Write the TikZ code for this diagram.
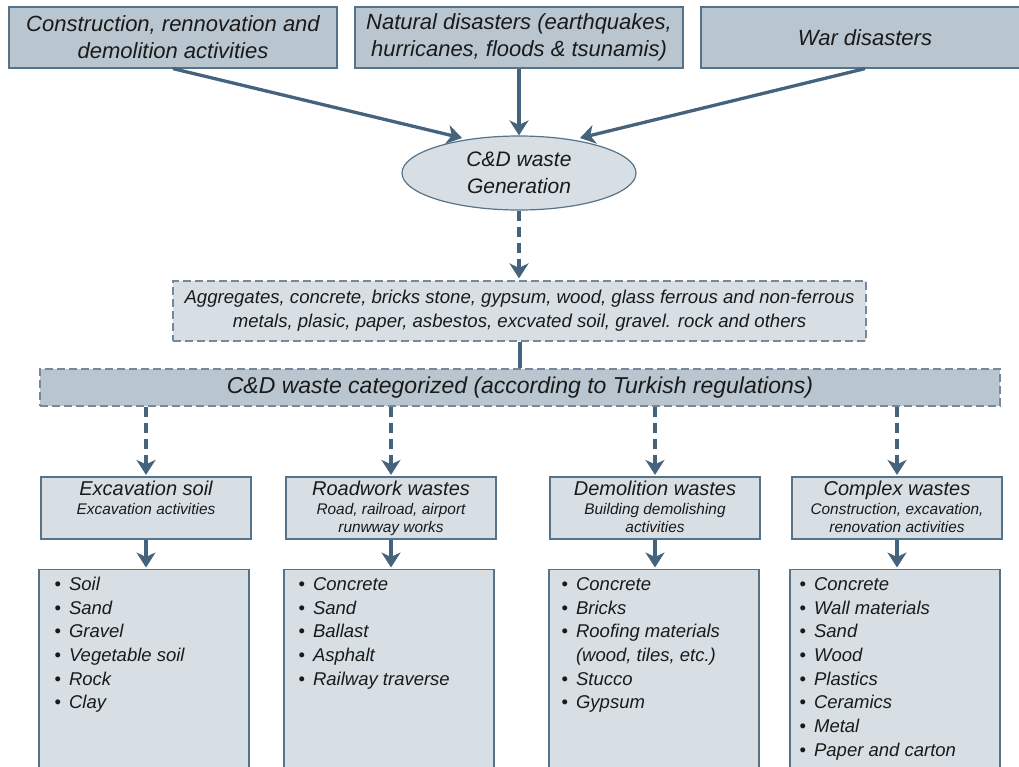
\documentclass[tikz,border=0pt]{standalone}
\usepackage{fontspec}
\setmainfont{Liberation Sans}
\usetikzlibrary{arrows.meta,shapes.geometric}
\definecolor{darkfill}{HTML}{B9C6CF}
\definecolor{lightfill}{HTML}{D7DFE4}
\definecolor{boxline}{HTML}{55738A}
\definecolor{arrowcol}{HTML}{45637C}
\definecolor{dashline}{HTML}{77889A}
\definecolor{txt}{HTML}{1A1A1A}
\newcommand{\bul}{{\upshape\textbullet}}
\begin{document}
\begin{tikzpicture}[x=1pt,y=-1pt,
  every node/.style={text=txt},
  topbox/.style={draw=boxline, line width=1.2pt, fill=darkfill, minimum width=328pt, minimum height=61pt, inner sep=0pt, align=center, font=\itshape\fontsize{22}{27}\selectfont},
  genell/.style={ellipse, draw=boxline, line width=1.2pt, fill=lightfill, minimum width=234pt, minimum height=74pt, inner sep=0pt, align=center, font=\itshape\fontsize{21}{27}\selectfont},
  aggbox/.style={draw=dashline, line width=1.2pt, dash pattern=on 8pt off 4pt, fill=lightfill, minimum width=693pt, minimum height=60pt, inner sep=0pt, align=center, font=\itshape\fontsize{18.6}{24}\selectfont},
  barbox/.style={draw=dashline, line width=1.2pt, dash pattern=on 8pt off 4pt, fill=darkfill, minimum width=960pt, minimum height=37pt, inner sep=0pt, align=center, font=\itshape\fontsize{23}{24}\selectfont},
  catbox/.style={draw=boxline, line width=1.2pt, fill=lightfill, minimum width=210pt, minimum height=62pt, inner sep=0pt, font=\itshape\fontsize{15.4}{18.5}\selectfont},
  listbox/.style={draw=boxline, line width=1.2pt, fill=lightfill, minimum width=210pt, minimum height=230pt, inner sep=0pt, anchor=north},
  listtext/.style={anchor=north west, inner sep=0pt, font=\itshape\fontsize{18.5}{23.7}\selectfont},
  arr/.style={draw=arrowcol, line width=3.3pt, -{Stealth[length=15pt, width=19pt, inset=4.5pt]}},
  darr/.style={arr, dash pattern=on 10pt off 6pt},
  link/.style={draw=arrowcol, line width=4pt}
]
\useasboundingbox (0,0) rectangle (1019,766);
\clip (0,0) rectangle (1019,766);

% top sources
\node[topbox] (b1) at (173,37.5) {Construction, rennovation and\\demolition activities};
\node[topbox] (b2) at (519,37.5) {Natural disasters (earthquakes,\\hurricanes, floods \& tsunamis)};
\node[topbox] (b3) at (865,37.5) {War disasters};

% generation
\node[genell] (ell) at (519,173) {C\&D waste\\Generation};
\coordinate (t1) at (462,138);
\coordinate (t3) at (580,138);
\draw[arr] (b1.south) -- (t1);
\draw[arr] (b2.south) -- (ell.north);
\draw[arr] (b3.south) -- (t3);

% aggregates
\node[aggbox] (agg) at (519.5,311) {Aggregates, concrete, bricks stone, gypsum, wood, glass ferrous and non-ferrous\\metals, plasic, paper, asbestos, excvated soil, gravel. rock and others};
\draw[darr, shorten >=2pt] (ell.south) -- (ell.south |- agg.north);

% categorized bar
\node[barbox] (bar) at (520,387.5) {C\&D waste categorized (according to Turkish regulations)};
\draw[link] (agg.south) -- (agg.south |- bar.north);

% categories
\node[catbox] (c1) at (146,508) {\parbox[t][54pt][t]{206pt}{\centering{\fontsize{20}{19}\selectfont Excavation soil}\\Excavation activities}};
\node[catbox] (c2) at (391,508) {\parbox[t][54pt][t]{206pt}{\centering{\fontsize{20}{19}\selectfont Roadwork wastes}\\Road, railroad, airport\\runwway works}};
\node[catbox] (c3) at (655,508) {\parbox[t][54pt][t]{206pt}{\centering{\fontsize{20}{19}\selectfont Demolition wastes}\\Building demolishing\\activities}};
\node[catbox] (c4) at (897,508) {\parbox[t][54pt][t]{206pt}{\centering{\fontsize{20}{19}\selectfont Complex wastes}\\Construction, excavation,\\renovation activities}};

\foreach \c in {c1,c2,c3,c4}{
  \draw[darr, shorten >=1.5pt] (bar.south -| \c.north) -- (\c.north);
}

% lists
\node[listbox] (l1) at (144,569) {};
\node[listbox] (l2) at (389,569) {};
\node[listbox] (l3) at (654,569) {};
\node[listbox] (l4) at (895,569) {};

\foreach \c/\l in {c1/l1,c2/l2,c3/l3,c4/l4}{
  \draw[arr, shorten >=1.5pt] (\c.south) -- (\c.south |- \l.north);
}

\node[listtext] (t1l) at ([shift={(16,4.5)}]l1.north west) {\begin{tabular}{@{}l@{\hspace{8pt}}l@{}}
\bul & Soil\\ \bul & Sand\\ \bul & Gravel\\ \bul & Vegetable soil\\ \bul & Rock\\ \bul & Clay
\end{tabular}};
\node[listtext] (t2l) at ([shift={(15,4.5)}]l2.north west) {\begin{tabular}{@{}l@{\hspace{8pt}}l@{}}
\bul & Concrete\\ \bul & Sand\\ \bul & Ballast\\ \bul & Asphalt\\ \bul & Railway traverse
\end{tabular}};
\node[listtext] (t3l) at ([shift={(13,4.5)}]l3.north west) {\begin{tabular}{@{}l@{\hspace{8pt}}l@{}}
\bul & Concrete\\ \bul & Bricks\\ \bul & Roofing materials\\ & (wood, tiles, etc.)\\ \bul & Stucco\\ \bul & Gypsum
\end{tabular}};
\node[listtext] (t4l) at ([shift={(10,4.5)}]l4.north west) {\begin{tabular}{@{}l@{\hspace{8pt}}l@{}}
\bul & Concrete\\ \bul & Wall materials\\ \bul & Sand\\ \bul & Wood\\ \bul & Plastics\\ \bul & Ceramics\\ \bul & Metal\\ \bul & Paper and carton
\end{tabular}};
\end{tikzpicture}
\end{document}
